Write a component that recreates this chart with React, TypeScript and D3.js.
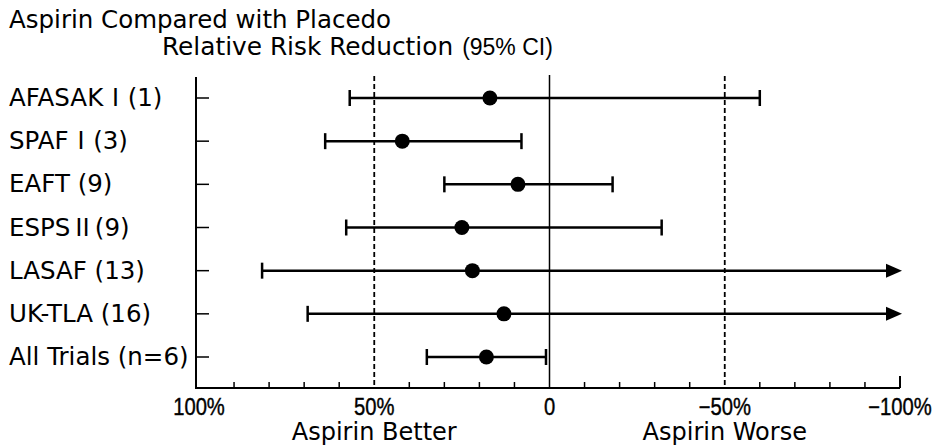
import React, { useEffect, useRef } from "react";
import * as d3 from "d3";

// forest plot: aspirin vs placebo, relative risk reduction with 95% CI
const trials = ["AFASAKⅠ(1)", "SPAFⅠ(3)", "EAFT (9)", "ESPSⅡ(9)", "LASAF (13)", "UK-TLA (16)", "All Trials (n=6)"];
const estimates = [17, 42, 9, 25, 22, 13, 18];
const ciHigh = [57, 64, 30, 58, 82, 69, 35];
const ciLow = [-60, 8, -18, -32, -100, -100, 1];
const openEnded = [false, false, false, false, true, true, false];
const tickLabels = [
  { v: 100, t: "100%" },
  { v: 50, t: "50%" },
  { v: 0, t: "0" },
  { v: -50, t: "−50%" },
  { v: -100, t: "−100%" },
];
const sideLabels = [
  { v: 50, t: "Aspirin Better" },
  { v: -50, t: "Aspirin Worse" },
];

const width = 942;
const height = 447;
const font = "'DejaVu Sans', Verdana, sans-serif";
const cjk = "'Noto Sans CJK JP', sans-serif";
const digitFont = "'Liberation Sans', Arial, sans-serif";

const App = () => {
  const ref = useRef<SVGSVGElement | null>(null);

  useEffect(() => {
    const svg = d3.select(ref.current);
    svg.selectAll("*").remove();

    const x = d3.scaleLinear().domain([100, -100]).range([199, 900]);
    const y = d3.scalePoint<string>().domain(trials).range([98, 357]);
    const axisY = 388;
    const axisTop = 77;

    svg.append("text").attr("x", 9).attr("y", 28).attr("font-size", 24.5)
      .attr("font-family", font).text("Aspirin Compared with Placedo");
    svg.append("text").attr("x", 162).attr("y", 55)
      .attr("font-family", font).attr("font-size", 24.8)
      .text("Relative Risk Reduction")
      .append("tspan").attr("dx", 9).attr("font-family", digitFont).attr("font-size", 23)
      .text("(95% CI)");

    // axes
    svg.append("line").attr("x1", x(100) - 3).attr("x2", x(100) - 3)
      .attr("y1", axisTop).attr("y2", axisY).attr("stroke", "#000").attr("stroke-width", 2);
    svg.append("line").attr("x1", x(100) - 4).attr("x2", x(-100))
      .attr("y1", axisY).attr("y2", axisY).attr("stroke", "#000").attr("stroke-width", 2);
    svg.append("line").attr("x1", x(-100)).attr("x2", x(-100))
      .attr("y1", axisY - 12).attr("y2", axisY).attr("stroke", "#000").attr("stroke-width", 2);

    svg.selectAll(".xtick").data(d3.range(-90, 100, 10).filter((d) => d % 50 !== 0))
      .enter().append("line")
      .attr("x1", (d) => x(d)).attr("x2", (d) => x(d))
      .attr("y1", axisY - 6).attr("y2", axisY)
      .attr("stroke", "#000").attr("stroke-width", 1.5);

    svg.selectAll(".ytick").data(trials).enter().append("line")
      .attr("x1", x(100) - 3).attr("x2", x(100) + 10)
      .attr("y1", (d) => y(d)!).attr("y2", (d) => y(d)!)
      .attr("stroke", "#000").attr("stroke-width", 1.5);

    // reference lines
    svg.append("line").attr("x1", x(0)).attr("x2", x(0))
      .attr("y1", axisTop - 2).attr("y2", axisY).attr("stroke", "#000").attr("stroke-width", 1.5);
    [50, -50].forEach((v) => {
      svg.append("line").attr("x1", x(v)).attr("x2", x(v))
        .attr("y1", axisTop - 1).attr("y2", axisY)
        .attr("stroke", "#000").attr("stroke-width", 1.8).attr("stroke-dasharray", "5,3");
    });

    // row labels, roman numerals taken from the CJK font (full width)
    const rowText = svg.selectAll(".rowlab").data(trials).enter().append("text")
      .attr("x", 9).attr("y", (d) => y(d)! + 8)
      .attr("font-family", font).attr("font-size", 24.5);
    rowText.each(function (d) {
      const t = d3.select(this);
      d.split(/([ⅠⅡ])/).filter((s) => s.length).forEach((s) => {
        const sp = t.append("tspan").text(s);
        if (/[ⅠⅡ]/.test(s)) sp.attr("font-family", cjk);
      });
    });

    // tick labels are condensed in the source
    svg.selectAll(".xlab").data(tickLabels).enter().append("text")
      .attr("transform", (d) => `translate(${x(d.v)},415) scale(0.86,1)`)
      .attr("text-anchor", "middle")
      .attr("font-family", digitFont).attr("font-size", 23.5)
      .attr("stroke", "#000").attr("stroke-width", 0.4).text((d) => d.t);
    svg.selectAll(".sidelab").data(sideLabels).enter().append("text")
      .attr("x", (d) => x(d.v)).attr("y", 440).attr("text-anchor", "middle")
      .attr("font-family", font).attr("font-size", 24).text((d) => d.t);

    // intervals
    const rows = trials.map((t, i) => ({ t, est: estimates[i], hi: ciHigh[i], lo: ciLow[i], open: openEnded[i] }));
    const g = svg.selectAll(".row").data(rows).enter().append("g")
      .attr("transform", (d) => `translate(0,${y(d.t)})`);
    g.append("line").attr("x1", (d) => x(d.hi)).attr("x2", (d) => (d.open ? x(d.lo) - 10 : x(d.lo)))
      .attr("y1", 0).attr("y2", 0).attr("stroke", "#000").attr("stroke-width", 2.5);
    g.append("line").attr("x1", (d) => x(d.hi)).attr("x2", (d) => x(d.hi))
      .attr("y1", -8).attr("y2", 8).attr("stroke", "#000").attr("stroke-width", 2.5);
    g.filter((d) => !d.open).append("line")
      .attr("x1", (d) => x(d.lo)).attr("x2", (d) => x(d.lo))
      .attr("y1", -8).attr("y2", 8).attr("stroke", "#000").attr("stroke-width", 2.5);
    g.filter((d) => d.open).append("path")
      .attr("d", (d) => `M${x(d.lo) + 2},0 L${x(d.lo) - 14},-7 L${x(d.lo) - 14},7 Z`)
      .attr("fill", "#000");
    g.append("circle").attr("cx", (d) => x(d.est)).attr("cy", 0).attr("r", 7.5).attr("fill", "#000");
  }, []);

  return (
    <svg ref={ref} width={width} height={height}
      style={{ position: "absolute", left: 0, top: 0, background: "#fff" }} />
  );
};

export default App;
